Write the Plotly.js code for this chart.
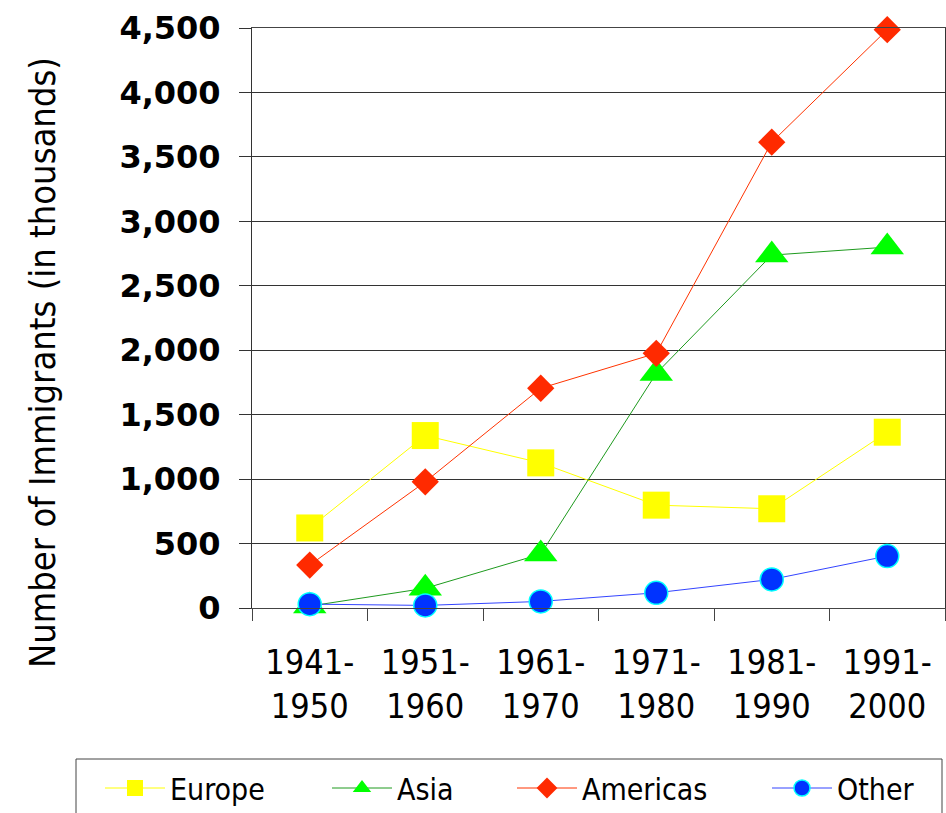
<!DOCTYPE html>
<html>
<head>
<meta charset="utf-8">
<script src="https://cdn.plot.ly/plotly-3.0.1.min.js"></script>
<style>html,body{margin:0;padding:0;background:#fff;}#chart{width:946px;height:813px;}</style>
</head>
<body>
<div id="chart"></div>
<script>
// ---- data ----
var periods = ["1941-<br>1950", "1951-<br>1960", "1961-<br>1970", "1971-<br>1980", "1981-<br>1990", "1991-<br>2000"];
var europe   = [621, 1338, 1126, 798, 770, 1364];
var asia     = [15, 153, 418, 1820, 2738, 2800];
var americas = [333, 979, 1705, 1976, 3614, 4487];
var other    = [30, 20, 51, 118, 222, 403];
var yTicks   = [0, 500, 1000, 1500, 2000, 2500, 3000, 3500, 4000, 4500];

var condensed = "'DejaVu Sans Condensed', 'DejaVu Sans', sans-serif";

var traces = [
  {x: periods, y: europe, name: "Europe", type: "scatter", mode: "lines+markers",
   line: {color: "#FFFF00", width: 1},
   marker: {symbol: "square", size: 27, color: "#FFFF00", line: {color: "#FFFF00", width: 0}},
   cliponaxis: false, legendwidth: 152},
  {x: periods, y: asia, name: "Asia", type: "scatter", mode: "lines+markers",
   line: {color: "#1E9A1E", width: 1},
   marker: {symbol: "triangle-up", size: 29, color: "#00FF00", line: {color: "#00FF00", width: 0}},
   cliponaxis: false, legendwidth: 110},
  {x: periods, y: americas, name: "Americas", type: "scatter", mode: "lines+markers",
   line: {color: "#FF3300", width: 1},
   marker: {symbol: "diamond", size: 21, color: "#FF2A00", line: {color: "#FF2A00", width: 0}},
   cliponaxis: false, legendwidth: 180},
  {x: periods, y: other, name: "Other", type: "scatter", mode: "lines+markers",
   line: {color: "#3344FF", width: 1},
   marker: {symbol: "circle", size: 23, color: "#0033FF", line: {color: "#00FFFF", width: 1.5}},
   cliponaxis: false, legendwidth: 100}
];

var W = 946, H = 813;
var L = 252, R = 1, T = 28, B = 205;
var pw = W - L - R, ph = H - T - B;
function px2x(p) { return (p - L) / pw; }
function px2y(p) { return 1 - (p - T) / ph; }

var layout = {
  width: W, height: H,
  margin: {l: L, r: R, t: T, b: B, pad: 0, autoexpand: false},
  paper_bgcolor: "#fff", plot_bgcolor: "#fff",
  showlegend: true,
  xaxis: {
    type: "category", range: [-0.5, 5.5],
    showgrid: false, zeroline: false,
    showline: true, linecolor: "#444", linewidth: 1, mirror: true,
    ticks: "outside", ticklen: 12, tickcolor: "#444", tickson: "boundaries",
    tickfont: {family: condensed, size: 34, color: "#000"},
    ticklabelstandoff: 24
  },
  yaxis: {
    range: [0, 4500], tickvals: yTicks, tickformat: ",d",
    showgrid: true, gridcolor: "#333", gridwidth: 1,
    zeroline: false,
    showline: true, linecolor: "#333", linewidth: 1, mirror: true,
    ticks: "outside", ticklen: 12, tickcolor: "#333",
    tickfont: {family: "'DejaVu Sans', sans-serif", size: 32, color: "#000", weight: "bold"},
    ticklabelstandoff: 12
  },
  legend: {
    orientation: "h", x: px2x(100), xanchor: "left", y: px2y(762), yanchor: "top",
    bgcolor: "rgba(0,0,0,0)", borderwidth: 0, itemwidth: 60,
    font: {family: condensed, size: 30, color: "#000"}
  },
  shapes: [{
    type: "rect", xref: "paper", yref: "paper",
    x0: px2x(76), x1: px2x(942), y0: px2y(759), y1: px2y(840),
    line: {color: "#444", width: 1}, fillcolor: "rgba(0,0,0,0)", layer: "below"
  }],
  annotations: [{
    text: "Number of Immigrants (in thousands)", textangle: -90,
    xref: "paper", yref: "paper", x: px2x(42), y: px2y(363),
    xanchor: "center", yanchor: "middle", showarrow: false,
    font: {family: condensed, size: 36, color: "#000"}
  }]
};

Plotly.newPlot("chart", traces, layout, {staticPlot: true});
</script>
</body>
</html>
